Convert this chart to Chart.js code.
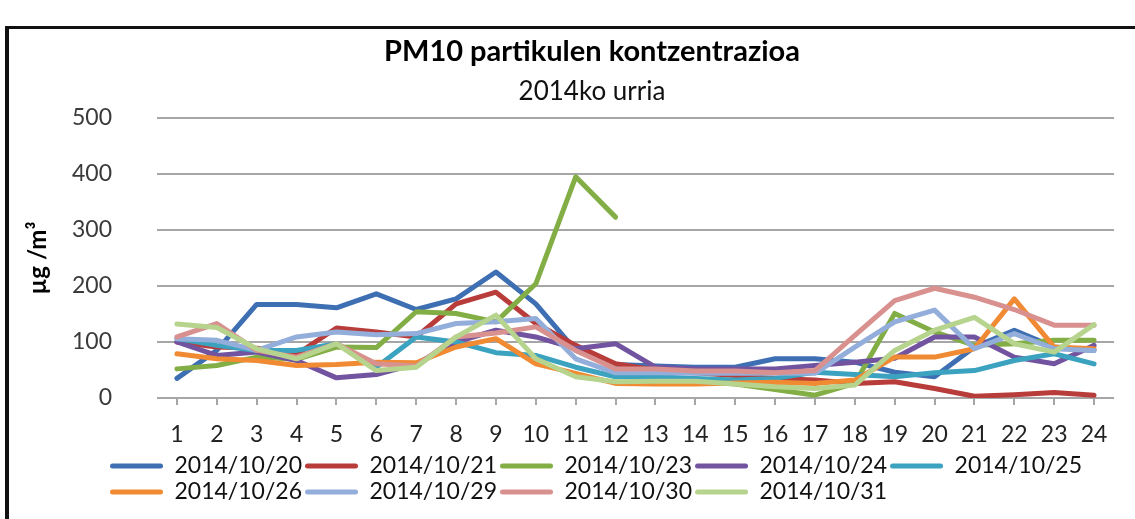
<!DOCTYPE html>
<html>
<head>
<meta charset="utf-8">
<script src="https://cdn.jsdelivr.net/npm/chart.js@4/dist/chart.umd.min.js"></script>
<style>
html,body{margin:0;padding:0;width:1135px;height:519px;overflow:hidden;background:#fff;}
#frame{position:absolute;left:5px;top:26px;width:1300px;height:600px;border-left:4px solid #111;border-top:3px solid #111;}
#wrap{position:absolute;left:11px;top:0;width:1162px;height:519px;}
</style>
</head>
<body>
<div id="frame"></div>
<div id="wrap"><canvas id="c" width="1162" height="519"></canvas></div>
<script>
// ---- data ----
const hours = ['1','2','3','4','5','6','7','8','9','10','11','12','13','14','15','16','17','18','19','20','21','22','23','24'];
const seriesNames = ['2014/10/20','2014/10/21','2014/10/23','2014/10/24','2014/10/25','2014/10/26','2014/10/29','2014/10/30','2014/10/31'];
const d20 = [35,85,167,167,161,186,158,177,225,168,85,60,57,55,55,70,70,64,46,38,91,121,91,85];
const d21 = [100,91,89,78,125,118,109,168,189,133,94,61,50,45,40,35,32,26,29,17,3,6,10,5];
const d23 = [52,58,73,69,91,90,154,151,136,204,395,323,null,30,25,15,5,26,151,118,94,97,103,103];
const d24 = [100,76,82,67,36,42,61,100,121,109,88,97,55,52,52,52,58,64,71,109,109,73,61,94];
const d25 = [106,94,85,85,97,55,109,100,81,76,55,38,38,35,32,35,46,42,38,45,49,67,79,61];
const d26 = [79,70,67,58,60,64,63,91,106,61,44,26,25,25,27,28,26,32,73,73,88,177,91,88];
const d29 = [106,103,85,109,118,113,115,133,136,142,70,45,45,44,44,44,44,91,136,157,88,115,88,85];
const d30 = [109,133,85,73,97,61,57,109,116,127,85,52,52,48,48,45,49,112,174,196,180,158,130,130];
const d31 = [132,126,88,70,97,49,55,109,148,70,38,29,30,30,25,20,17,23,85,121,144,97,82,131];
const yTicks = [0,100,200,300,400,500];

// ---- styles ----
const seriesData = [d20,d21,d23,d24,d25,d26,d29,d30,d31];
const colors = ['#3E6FB3','#B83D3A','#82AE45','#7253A0','#3BA2BF','#F08A33','#93AEDA','#D8918F','#B6D48D'];

function make(){
  const datasets = seriesNames.map((name,i)=>({
    label:name,
    data:seriesData[i],
    borderColor:colors[i],
    backgroundColor:colors[i],
    borderWidth:5,
    pointRadius:0,
    pointHoverRadius:0,
    tension:0,
    borderJoinStyle:'round',
    borderCapStyle:'round',
    spanGaps:false,
    order:seriesNames.length-1-i
  }));

  const legendShift = {
    id:'legendShift',
    afterLayout(chart){ if(chart.legend){ chart.legend.left += 96; } }
  };

  new Chart(document.getElementById('c'),{
    type:'line',
    data:{labels:hours,datasets},
    plugins:[legendShift],
    options:{
      responsive:false,
      animation:false,
      layout:{padding:{left:0,right:0,top:0,bottom:5.5}},
      plugins:{
        tooltip:{enabled:false},
        title:{display:true,text:'PM10 partikulen kontzentrazioa',color:'#000',
          font:{family:'Lato',size:29,weight:'bold'},padding:{top:34.6,bottom:0}},
        subtitle:{display:true,text:'2014ko urria',color:'#111',
          font:{family:'Lato',size:26},padding:{top:7,bottom:10.4}},
        legend:{
          position:'bottom',align:'start',
          labels:{
            boxWidth:53,boxHeight:5,padding:3,color:'#111',
            font:{family:'Lato',size:23},
            useBorderRadius:true,borderRadius:2.5,
            sort:(a,b)=>a.datasetIndex-b.datasetIndex,
            generateLabels:(chart)=>Chart.defaults.plugins.legend.labels.generateLabels(chart).map(l=>Object.assign(l,{lineWidth:0}))
          }
        }
      },
      scales:{
        x:{
          offset:true,
          grid:{display:true,drawOnChartArea:false,drawTicks:true,tickLength:7,color:'#a6a6a6',lineWidth:2,offset:false},
          border:{display:false},
          ticks:{padding:13.5,color:'#222',font:{family:'Lato',size:23,lineHeight:1.43},maxRotation:0,autoSkip:false},
          afterFit(s){ s.height = 53.5; }
        },
        y:{
          min:0,max:500,
          afterBuildTicks(s){ s.ticks = yTicks.map(v=>({value:v})); },
          ticks:{padding:45,color:'#3a3a3a',font:{family:'Lato',size:23}},
          grid:{color:'#a6a6a6',lineWidth:2,drawTicks:false},
          border:{display:false},
          title:{display:true,text:'µg /m³',color:'#000',font:{family:'Lato',size:24,weight:'bold'},padding:{top:12.6,bottom:0}},
          afterFit(s){ s.width = 146; }
        },
        yR:{
          position:'right',display:true,
          grid:{display:false},ticks:{display:false},border:{display:false},
          afterFit(s){ s.width = 59; }
        }
      }
    }
  });
}
Promise.all([document.fonts.load('23px Lato'),document.fonts.load('bold 29px Lato')]).then(make,make);
</script>
</body>
</html>
